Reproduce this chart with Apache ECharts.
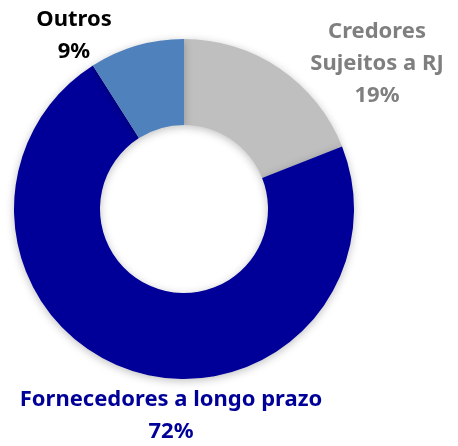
<!DOCTYPE html>
<html>
<head>
<meta charset="utf-8">
<script src="https://cdn.jsdelivr.net/npm/echarts@6/dist/echarts.min.js"></script>
<style>
  html, body { margin: 0; padding: 0; background: #fff; }
  #chart { width: 458px; height: 446px; }
</style>
</head>
<body>
<div id="chart"></div>
<script>
// data
const categories = ["Credores Sujeitos a RJ", "Fornecedores a longo prazo", "Outros"];
const shares = [19, 72, 9];
const labelNames = ["Credores\nSujeitos a RJ", "Fornecedores a longo prazo", "Outros"];

const sliceColors = ["#BFBFBF", "#000099", "#4F81BD"];
const labelColors = ["#7F7F7F", "#000099", "#000000"];
// where each label block is centred (px)
const labelPos = [
  { x: 377, y: 64 },
  { x: 171, y: 416 },
  { x: 74, y: 36 },
];

const chart = echarts.init(document.getElementById("chart"));
chart.setOption({
  animation: false,
  series: [
    {
      type: "pie",
      center: [184, 209],
      radius: [84, 170],
      startAngle: 90,
      clockwise: true,
      avoidLabelOverlap: false,
      data: categories.map((name, i) => ({
        name: name,
        value: shares[i],
        itemStyle: { color: sliceColors[i] },
        label: { color: labelColors[i] },
      })),
      itemStyle: {
        borderWidth: 0,
        shadowBlur: 8,
        shadowColor: "rgba(0,0,0,0.25)",
        shadowOffsetY: 2,
      },
      label: {
        show: true,
        position: "outside",
        fontFamily: "Noto Sans",
        fontWeight: "bold",
        fontSize: 22,
        lineHeight: 32,
        align: "center",
        formatter: (p) => labelNames[p.dataIndex] + "\n" + p.value + "%",
      },
      labelLine: { show: false },
      labelLayout: (params) => ({
        x: labelPos[params.dataIndex].x,
        y: labelPos[params.dataIndex].y,
        align: "center",
        verticalAlign: "middle",
      }),
      emphasis: { disabled: true },
    },
  ],
});
</script>
</body>
</html>
